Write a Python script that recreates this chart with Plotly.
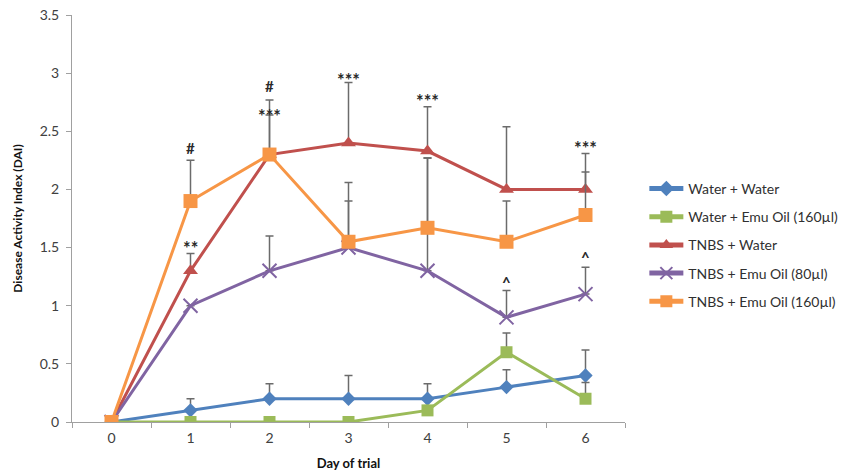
import plotly.graph_objects as go

days = ["0", "1", "2", "3", "4", "5", "6"]

water_water = [0, 0.1, 0.2, 0.2, 0.2, 0.3, 0.4]
water_water_err = [0, 0.1, 0.13, 0.2, 0.13, 0.15, 0.22]

water_emu160 = [0, 0, 0, 0, 0.1, 0.6, 0.2]
water_emu160_err = [0, 0, 0, 0, 0, 0.165, 0.14]

tnbs_water = [0, 1.3, 2.3, 2.4, 2.33, 2.0, 2.0]
tnbs_water_err = [0, 0.15, 0.47, 0.52, 0.38, 0.54, 0.31]

tnbs_emu80 = [0, 1.0, 1.3, 1.5, 1.3, 0.9, 1.1]
tnbs_emu80_err = [0, 0, 0.3, 0.4, 0.97, 0.23, 0.23]

tnbs_emu160 = [0, 1.9, 2.3, 1.55, 1.67, 1.55, 1.78]
tnbs_emu160_err = [0, 0.35, 0.34, 0.51, 0.6, 0.35, 0.37]

# significance markers: (day, y, text)
sig_marks = [
    ("1", 2.36, "#"), ("1", 1.50, "**"),
    ("2", 2.89, "#"), ("2", 2.63, "***"),
    ("3", 2.94, "***"), ("4", 2.76, "***"), ("6", 2.36, "***"),
    ("5", 1.20, "^"), ("6", 1.42, "^"),
]

series = [
    ("Water + Water", water_water, water_water_err, "#4F81BD",
     dict(symbol="diamond", size=11)),
    ("Water + Emu Oil (160µl)", water_emu160, water_emu160_err, "#9BBB59",
     dict(symbol="square", size=12)),
    ("TNBS + Water", tnbs_water, tnbs_water_err, "#C0504D",
     dict(symbol="triangle-up", size=13)),
    ("TNBS + Emu Oil (80µl)", tnbs_emu80, tnbs_emu80_err, "#8064A2",
     dict(symbol="x-thin", size=14, line=dict(width=2, color="#8064A2"))),
    ("TNBS + Emu Oil (160µl)", tnbs_emu160, tnbs_emu160_err, "#F79646",
     dict(symbol="square", size=14)),
]

fig = go.Figure()
for name, vals, errs, color, marker in series:
    fig.add_trace(go.Scatter(
        x=days, y=vals, name=name, legendgroup=name, mode="lines+markers",
        line=dict(color=color, width=3),
        marker=dict(color=color, **marker),
        error_y=dict(type="data", symmetric=False, array=errs,
                     arrayminus=[0] * len(errs), color="#6b6b6b",
                     thickness=1.5, width=4),
    ))

for d, y, t in sig_marks:
    size = 18 if "*" in t else 15
    fig.add_annotation(x=d, y=y, text=f"<b>{t}</b>", showarrow=False,
                       font=dict(size=size, color="#2a2a2a", family="Lato"),
                       yanchor="middle")

fig.update_layout(
    width=860, height=476,
    margin=dict(l=72, r=235, t=15, b=54),
    paper_bgcolor="white", plot_bgcolor="white",
    font=dict(family="Lato", size=14, color="#404040"),
    showlegend=True,
    legend=dict(x=1.035, y=0.612, xanchor="left", yanchor="top",
                font=dict(size=14, color="#303030"),
                itemwidth=34, tracegroupgap=7, itemsizing="constant",
                bgcolor="rgba(0,0,0,0)"),
    xaxis=dict(
        type="category", range=[-0.5, 6.5], tickson="boundaries",
        ticks="outside", ticklen=5, tickcolor="#a0a0a0",
        ticklabelstandoff=3, automargin=False,
        showline=True, linecolor="#a0a0a0", linewidth=1,
        showgrid=False, zeroline=False,
        title=dict(text="<b>Day of trial</b>", font=dict(size=13, color="#111111"),
                   standoff=14),
    ),
    yaxis=dict(
        range=[0, 3.5], dtick=0.5, tickformat="~g",
        ticks="outside", ticklen=5, tickcolor="#a0a0a0",
        ticklabelstandoff=4, automargin=False,
        showline=True, linecolor="#a0a0a0", linewidth=1,
        showgrid=False, zeroline=False,
        title=dict(text="<b>Disease Activity Index (DAI)</b>",
                   font=dict(size=12, color="#111111"), standoff=14),
    ),
)

fig.write_html("out.html")
